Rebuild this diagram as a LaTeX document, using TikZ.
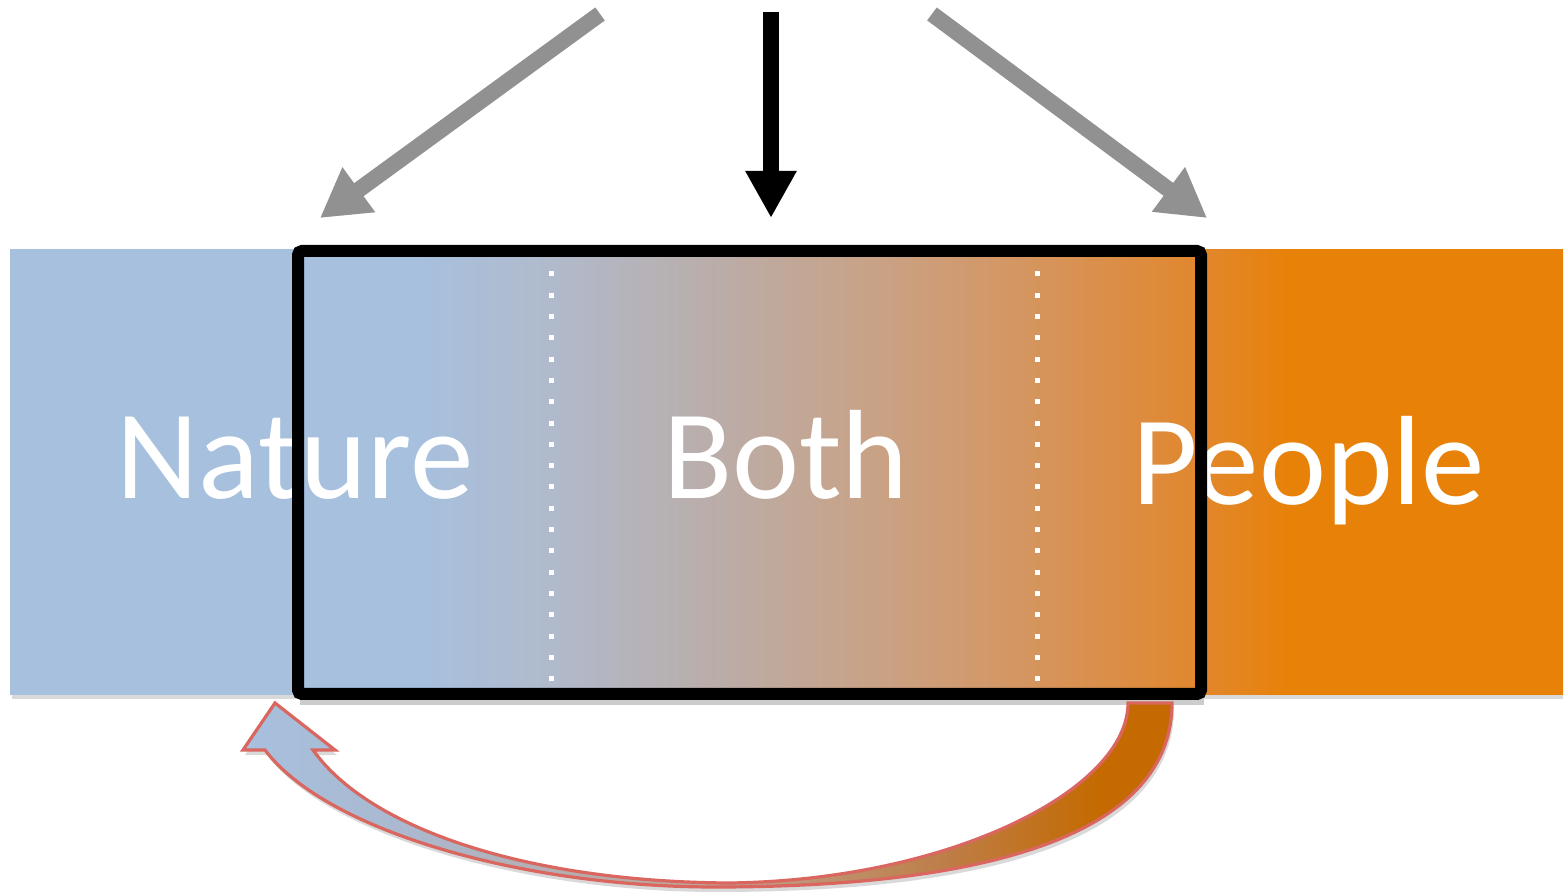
\documentclass[tikz,border=0pt]{standalone}
\usepackage{fontspec}
\setmainfont{Carlito}
\usetikzlibrary{arrows.meta}
\definecolor{natblue}{RGB}{167,192,222}
\definecolor{sg1}{RGB}{176,186,204}
\definecolor{sg2}{RGB}{185,174,172}
\definecolor{sg3}{RGB}{203,160,128}
\definecolor{sg4}{RGB}{214,148,92}
\definecolor{sg5}{RGB}{225,135,45}
\definecolor{pplorange}{RGB}{232,129,8}
\definecolor{cg1}{RGB}{170,185,208}
\definecolor{cg2}{RGB}{190,165,150}
\definecolor{cg3}{RGB}{190,125,70}
\definecolor{curveorange}{RGB}{196,106,0}
\definecolor{arrowgray}{RGB}{145,145,145}
\definecolor{arrowred}{RGB}{217,102,95}
\pgfdeclarehorizontalshading{stripshade}{100bp}{color(0bp)=(natblue); color(38.2bp)=(natblue); color(42.39bp)=(sg1); color(47.21bp)=(sg2); color(53.65bp)=(sg3); color(58.16bp)=(sg4); color(63.31bp)=(sg5); color(66.21bp)=(pplorange); color(100bp)=(pplorange)}
\pgfdeclarehorizontalshading{curveshade}{100bp}{color(0bp)=(natblue); color(25bp)=(natblue); color(33.45bp)=(cg1); color(49.6bp)=(cg2); color(63.05bp)=(cg3); color(71.12bp)=(curveorange); color(100bp)=(curveorange)}
\tikzset{
  lbl/.style={text=white, inner sep=0pt, anchor=base, font=\fontsize{63.5}{63}\selectfont},
  grayarrow/.style={draw=arrowgray, line width=8pt, -{Triangle[length=24pt 0 0, width=26pt 0 0]}},
  blackarrow/.style={draw=black, line width=8pt, -{Triangle[length=23.5pt 0 0, width=24pt 0 0]}},
  arrowshadow/.style={draw=black, opacity=0.16, line width=8pt, -{Triangle[length=24pt 0 0, width=26pt 0 0]}},
  dotline/.style={draw=white, line width=2.5pt, dash pattern=on 2.5pt off 8.15pt},
  boxline/.style={draw=black, line width=6pt, rounded corners=2pt}
}
\begin{document}
\begin{tikzpicture}[x=0.5pt, y={(0pt,-0.5pt)}]
\useasboundingbox (0,0) rectangle (1564,892);
% coordinates
\coordinate (lsrc) at (600,14);
\coordinate (ltip) at (320,218);
\coordinate (msrc) at (771,12);
\coordinate (mtip) at (771,218);
\coordinate (rsrc) at (932,14);
\coordinate (rtip) at (1207,218);
% strip shadow and strip
\fill[black, opacity=0.15] (12,695) rectangle (1563,699);
\shade[shading=stripshade] (10,250) rectangle (1563,695);
% dotted separators
\coordinate (d1a) at (551,271.5);
\coordinate (d1b) at (551,685);
\coordinate (d2a) at (1037,271.5);
\coordinate (d2b) at (1037,685);
\draw[dotline] (d1a) -- (d1b);
\draw[dotline] (d2a) -- (d2b);
% labels
\node[lbl] (nature) at (295,499) {Nature};
\node[lbl] (both) at (786,499) {Both};
\node[lbl] (people) at (1309,505) {People};
% box shadow and box
\draw[black, opacity=0.2, line width=3pt] (300,702) -- (1204,702);
\draw[boxline] (298,251) rectangle (1201,694);
% top arrows
\draw[arrowshadow, shift={(3,5)}] (lsrc) -- (ltip);
\draw[arrowshadow, shift={(-3,5)}] (rsrc) -- (rtip);
\draw[grayarrow] (lsrc) -- (ltip);
\draw[blackarrow] (msrc) -- (mtip);
\draw[grayarrow] (rsrc) -- (rtip);
% curved feedback arrow
\coordinate (cstart) at (1172,703);
\coordinate (cend) at (275,703);
\fill[black, opacity=0.15, shift={(2,5)}] (1172,703) .. controls (1172,830) and (1000,887) .. (715,887) .. controls (520,887) and (325,830) .. (265,750) -- (243,750) -- (275,703) -- (335,750) -- (313,750) .. controls (370,830) and (530,882) .. (730,883) .. controls (950,880) and (1128,790) .. (1128,703) -- cycle;
\shadedraw[shading=curveshade, draw=arrowred, line width=1.6pt, line join=miter] (cstart) .. controls (1172,830) and (1000,887) .. (715,887) .. controls (520,887) and (325,830) .. (265,750) -- (243,750) -- (cend) -- (335,750) -- (313,750) .. controls (370,830) and (530,882) .. (730,883) .. controls (950,880) and (1128,790) .. (1128,703) -- cycle;
\end{tikzpicture}
\end{document}
